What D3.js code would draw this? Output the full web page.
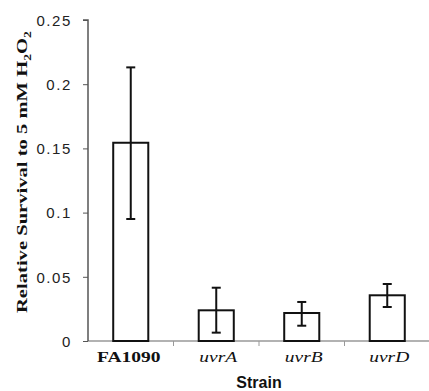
<!DOCTYPE html>
<html><head><meta charset="utf-8">
<script src="https://cdn.jsdelivr.net/npm/d3@7"></script>
<style>body{margin:0;background:#fff}svg{display:block}</style>
</head><body>
<svg id="c" width="429" height="391"></svg>
<script>
const categories = ["FA1090", "uvrA", "uvrB", "uvrD"];
const values = [0.1544, 0.0239, 0.0218, 0.0356];
const errLow = [0.095, 0.0065, 0.0119, 0.0265];
const errHigh = [0.2131, 0.0415, 0.0304, 0.0444];
const yTicks = [0, 0.05, 0.1, 0.15, 0.2, 0.25];
const yTickLabels = ["0", "0.05", "0.1", "0.15", "0.2", "0.25"];

const svg = d3.select("#c");
const x = d3.scaleBand().domain(categories).range([88, 430]).paddingInner(0.59).paddingOuter(0.295);
const y = d3.scaleLinear().domain([0, 0.25]).range([341, 20]);

// x axis line
svg.append("line").attr("x1", 88).attr("x2", 429).attr("y1", y(0)).attr("y2", y(0))
  .attr("stroke", "#999").attr("stroke-width", 1.5);
const step = x.step();
categories.forEach((c, i) => {
  if (i === 0) return;
  const xx = x(c) - (step - x.bandwidth()) / 2;
  svg.append("line").attr("x1", xx).attr("x2", xx).attr("y1", y(0)).attr("y2", y(0) + 5)
    .attr("stroke", "#999").attr("stroke-width", 1);
});

// y axis
const yAxis = svg.append("g").attr("transform", "translate(88,0)")
  .call(d3.axisLeft(y).tickValues(yTicks).tickFormat((d, i) => yTickLabels[i]).tickSize(5).tickPadding(11));
yAxis.select(".domain").attr("stroke", "#555").attr("stroke-width", 1.5).attr("d", "M-5,20H0V341");
yAxis.selectAll(".tick line").attr("stroke", "#555");
yAxis.selectAll(".tick text").attr("font-family", "Arial, 'Liberation Sans', sans-serif")
  .attr("font-size", 15).attr("fill", "#222").attr("letter-spacing", "1.6px").attr("dy", "0.35em");

// bars
svg.selectAll("rect.bar").data(categories).enter().append("rect")
  .attr("x", d => x(d)).attr("width", x.bandwidth())
  .attr("y", (d, i) => y(values[i])).attr("height", (d, i) => y(0) - y(values[i]))
  .attr("fill", "#fff").attr("stroke", "#111").attr("stroke-width", 2);

// error bars
const cap = 4.5;
categories.forEach((c, i) => {
  const cx = x(c) + x.bandwidth() / 2;
  const g = svg.append("g").attr("stroke", "#111").attr("stroke-width", 2);
  g.append("line").attr("x1", cx).attr("x2", cx).attr("y1", y(errLow[i])).attr("y2", y(errHigh[i]));
  g.append("line").attr("x1", cx - cap).attr("x2", cx + cap).attr("y1", y(errLow[i])).attr("y2", y(errLow[i]));
  g.append("line").attr("x1", cx - cap).attr("x2", cx + cap).attr("y1", y(errHigh[i])).attr("y2", y(errHigh[i]));
});

// category labels
categories.forEach((c, i) => {
  const cx = x(c) + x.bandwidth() / 2 + (i === 0 ? -2 : 2);
  const t = svg.append("text").attr("transform", `translate(${cx},362) scale(1.3,1)`)
    .attr("text-anchor", "middle").attr("font-family", "'Liberation Serif', 'Times New Roman', serif")
    .attr("font-size", 15).attr("fill", "#111").text(c);
  if (i === 0) t.attr("font-weight", "bold"); else t.attr("font-style", "italic");
});

// x title
svg.append("text").attr("x", 259).attr("y", 388).attr("text-anchor", "middle")
  .attr("font-family", "Arial, 'Liberation Sans', sans-serif").attr("font-weight", "bold")
  .attr("font-size", 16).attr("fill", "#111").text("Strain");

// y title
const yt = svg.append("text").attr("transform", "translate(27,172) rotate(-90)")
  .attr("text-anchor", "middle").attr("font-family", "'Liberation Serif', 'Times New Roman', serif")
  .attr("font-weight", "bold").attr("font-size", 15).attr("fill", "#111")
  .attr("textLength", 282).attr("lengthAdjust", "spacingAndGlyphs");
yt.append("tspan").text("Relative Survival to 5 mM H");
yt.append("tspan").attr("font-size", 10).attr("dy", 4).text("2");
yt.append("tspan").attr("dy", -4).text("O");
yt.append("tspan").attr("font-size", 10).attr("dy", 4).text("2");
</script>
</body></html>
